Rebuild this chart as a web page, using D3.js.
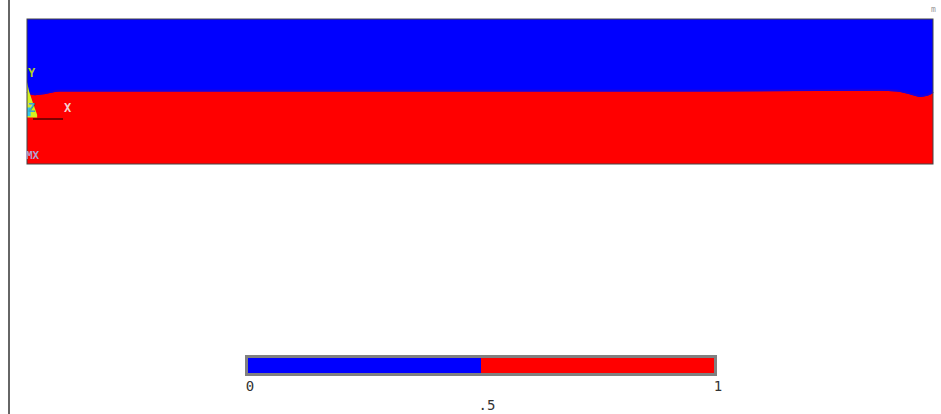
<!DOCTYPE html>
<html>
<head>
<meta charset="utf-8">
<script src="https://cdn.jsdelivr.net/npm/d3@7.9.0/dist/d3.min.js"></script>
<style>
  html, body { margin: 0; padding: 0; background: #fff; }
  svg { display: block; }
  text { font-family: "DejaVu Sans Mono", monospace; }
</style>
</head>
<body>
<svg id="plot" width="941" height="414"></svg>
<script>
// domain size (model units)
const domainLength = 12.5;
const domainHeight = 2.0;

// free surface (volume fraction = 0.5 contour), x along channel, y height
const interfaceX = [0, 0.11, 0.25, 0.45, 1.0, 3.0, 6.0, 9.0, 11.77, 12.0, 12.22, 12.32, 12.42, 12.5];
const interfaceY = [0.98, 0.95, 0.965, 1.0, 1.0, 1.0, 1.0, 1.0, 1.01, 1.0, 0.95, 0.925, 0.94, 0.98];

// small inflow region with intermediate fraction near the left wall
const wedgeX = [0, 0.03, 0.08, 0.14, 0.14, 0];
const wedgeY = [1.13, 1.0, 0.85, 0.68, 0.64, 0.64];
const wedgeCyanX = [0, 0.05, 0.05, 0];
const wedgeCyanY = [0.78, 0.78, 0.66, 0.66];

// colour legend
const legendStops = [0, 0.5, 1];
const legendColors = ['#0000ff', '#ff0000'];
const legendLabels = ['0', '.5', '1'];

const svg = d3.select('#plot');

// left frame rule
svg.append('line')
  .attr('x1', 9).attr('x2', 9).attr('y1', 0).attr('y2', 414)
  .attr('stroke', '#666').attr('stroke-width', 2);

// scales for the model domain
const x = d3.scaleLinear().domain([0, domainLength]).range([27, 933]);
const y = d3.scaleLinear().domain([0, domainHeight]).range([164, 19]);

// air phase (whole domain)
svg.append('rect')
  .attr('x', x(0)).attr('y', y(domainHeight))
  .attr('width', x(domainLength) - x(0))
  .attr('height', y(0) - y(domainHeight))
  .attr('fill', '#0000ff');

// water phase below the free surface
const pts = interfaceX.map((d, i) => [d, interfaceY[i]]);
const area = d3.area()
  .x(d => x(d[0]))
  .y0(y(0))
  .y1(d => y(d[1]))
  .curve(d3.curveMonotoneX);
svg.append('path').datum(pts)
  .attr('d', area)
  .attr('fill', '#ff0000');

// thin transition band at the surface
svg.append('path').datum(pts)
  .attr('d', d3.line().x(d => x(d[0])).y(d => y(d[1])).curve(d3.curveMonotoneX))
  .attr('fill', 'none')
  .attr('stroke', '#1a00e0')
  .attr('stroke-width', 2)
  .attr('transform', 'translate(0,-1)');

// intermediate fraction near inlet
const poly = d3.line().x(d => x(d[0])).y(d => y(d[1]));
svg.append('path').datum(wedgeX.map((d, i) => [d, wedgeY[i]]))
  .attr('d', poly).attr('fill', '#d4f020');
svg.append('path').datum(wedgeCyanX.map((d, i) => [d, wedgeCyanY[i]]))
  .attr('d', poly).attr('fill', '#30c8e8');

// domain outline
svg.append('rect')
  .attr('x', x(0)).attr('y', y(domainHeight))
  .attr('width', x(domainLength) - x(0))
  .attr('height', y(0) - y(domainHeight))
  .attr('fill', 'none')
  .attr('stroke', '#444').attr('stroke-width', 1);

// coordinate triad
const triad = svg.append('g');
triad.append('line')
  .attr('x1', 33).attr('x2', 63).attr('y1', 119).attr('y2', 119)
  .attr('stroke', '#800000').attr('stroke-width', 2);
triad.append('text').attr('x', 28).attr('y', 77).text('Y')
  .attr('font-size', 12).attr('font-weight', 'bold').attr('fill', '#b0d020');
triad.append('text').attr('x', 28).attr('y', 112).text('Z')
  .attr('font-size', 12).attr('font-weight', 'bold').attr('fill', '#40a0d0');
triad.append('text').attr('x', 64).attr('y', 112).text('X')
  .attr('font-size', 12).attr('font-weight', 'bold').attr('fill', '#f4d0d0');
svg.append('text').attr('x', 26).attr('y', 159).text('MX')
  .attr('font-size', 11).attr('font-weight', 'bold').attr('fill', '#b0a0d0');

// tiny corner mark
svg.append('text').attr('x', 931).attr('y', 12).text('m')
  .attr('font-size', 8).attr('fill', '#999');

// colour legend bar
const lx = d3.scaleLinear().domain([0, 1]).range([248, 714]);
svg.append('rect')
  .attr('x', lx(0) - 3).attr('y', 355)
  .attr('width', lx(1) - lx(0) + 6).attr('height', 21)
  .attr('fill', '#808080');
svg.selectAll('rect.band')
  .data(d3.pairs(legendStops))
  .join('rect')
  .attr('class', 'band')
  .attr('x', d => lx(d[0]))
  .attr('y', 358)
  .attr('width', d => lx(d[1]) - lx(d[0]))
  .attr('height', 15)
  .attr('fill', (d, i) => legendColors[i]);

svg.selectAll('text.lbl')
  .data(legendStops)
  .join('text')
  .attr('class', 'lbl')
  .attr('x', (d, i) => lx(d) + (i === 2 ? 4 : i === 0 ? 2 : 6))
  .attr('y', (d, i) => i === 1 ? 410 : 391)
  .attr('text-anchor', 'middle')
  .attr('font-size', 14)
  .attr('fill', '#333')
  .text((d, i) => legendLabels[i]);
</script>
</body>
</html>
